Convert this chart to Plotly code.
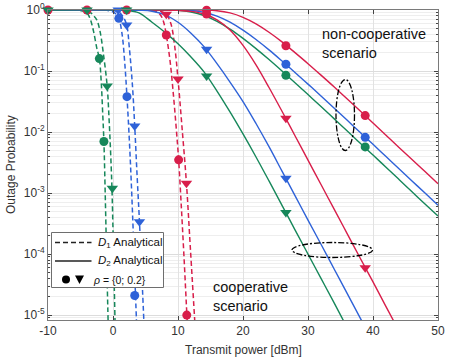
import plotly.graph_objects as go

# Outage probability vs transmit power

# D1 analytical, dashed (rho = 0 -> circle curve, rho = 0.2 -> triangle curve)
d1_red_c_x = [-10, 5, 6.5, 7.3, 7.8, 8.2, 8.8, 9.3, 9.7, 10.1, 10.5, 10.9, 11.3, 11.6]
d1_red_c_y = [1, 1, 0.955, 0.83, 0.63, 0.39, 0.14, 0.04, 0.0126, 0.0035, 6.3e-4, 1.0e-4, 1.4e-5, 3.2e-6]
d1_red_t_x = [-10, 6, 7.5, 8.2, 8.9, 9.5, 10.0, 10.6, 11.3, 11.9, 12.57, 12.8]
d1_red_t_y = [1, 0.99, 0.94, 0.85, 0.6, 0.25, 0.074, 0.0126, 1.45e-3, 1.26e-4, 8.3e-6, 3.2e-6]

d1_blue_c_x = [-10, -1, 0, 0.5, 0.9, 1.4, 1.8, 2.15, 2.5, 2.8, 3.1, 3.4, 3.65]
d1_blue_c_y = [1, 0.99, 0.93, 0.85, 0.73, 0.4, 0.14, 0.038, 7.9e-3, 1.6e-3, 2.5e-4, 3.2e-5, 6.3e-6]
d1_blue_t_x = [-10, 0, 1, 1.5, 2.1, 2.5, 3.0, 3.34, 3.7, 4.07, 4.4, 4.75]
d1_blue_t_y = [1, 0.98, 0.91, 0.79, 0.57, 0.25, 0.056, 0.0126, 2.0e-3, 3.4e-4, 5.6e-5, 8.0e-6]

d1_green_c_x = [-10, -5, -4, -3.5, -3.0, -2.5, -2.1, -1.8, -1.6, -1.4, -1.2, -1.0, -0.8, -0.6]
d1_green_c_y = [1, 0.98, 0.89, 0.71, 0.45, 0.24, 0.16, 0.063, 0.022, 0.007, 1.0e-3, 1.1e-4, 1.3e-5, 1.6e-6]
d1_green_t_x = [-10, -4.5, -3.5, -3.0, -2.5, -2.0, -1.5, -0.9, -0.6, -0.2, 0.0, 0.15, 0.35]
d1_green_t_y = [1, 0.98, 0.91, 0.81, 0.69, 0.45, 0.2, 0.057, 0.016, 1.6e-3, 2.5e-4, 5.0e-5, 5.0e-6]

# D2 analytical, solid: non-cooperative and cooperative scenario
pw = [-10, 5, 10, 12, 14, 16, 18, 20, 22, 24, 26, 28, 30, 32, 34, 36, 38, 40, 42, 44, 46, 48, 50]
red_nc = [1, 1, 1, 0.9999, 0.9965, 0.972, 0.895, 0.758, 0.592, 0.432, 0.30, 0.20, 0.132,
          0.0857, 0.0552, 0.0351, 0.0223, 0.0141, 8.9e-3, 5.6e-3, 3.56e-3, 2.25e-3, 1.42e-3]
blue_nc = [1, 1, 0.998, 0.981, 0.919, 0.795, 0.632, 0.467, 0.328, 0.222, 0.146, 0.0949, 0.061,
           0.0391, 0.0248, 0.0157, 9.9e-3, 6.3e-3, 3.97e-3, 2.5e-3, 1.58e-3, 1.0e-3, 6.3e-4]
green_nc = [1, 1, 0.985, 0.929, 0.812, 0.651, 0.486, 0.343, 0.233, 0.154, 0.100, 0.0643, 0.0411,
            0.0262, 0.0166, 0.0105, 6.6e-3, 4.2e-3, 2.65e-3, 1.67e-3, 1.05e-3, 6.6e-4, 4.2e-4]

pw_c = [-10, 2, 4, 6, 8, 10, 12, 14, 16, 18, 20, 22, 24, 26, 28, 30, 32, 34, 36, 38, 40, 42, 44, 46]
red_c = [1, 1, 1, 1, 0.999, 0.986, 0.95, 0.86, 0.69, 0.47, 0.263, 0.126, 0.0537, 0.0219,
         8.7e-3, 3.47e-3, 1.38e-3, 5.5e-4, 2.19e-4, 8.7e-5, 3.5e-5, 1.38e-5, 5.5e-6, 2.2e-6]
blue_c = [1, 1, 0.99, 0.955, 0.83, 0.63, 0.417, 0.251, 0.132, 0.066, 0.0316, 0.0138, 5.75e-3,
          2.29e-3, 9.1e-4, 3.6e-4, 1.45e-4, 5.75e-5, 2.29e-5, 9.1e-6, 3.6e-6, 1.4e-6, 6e-7, 2e-7]
green_c = [1, 0.99, 0.9, 0.63, 0.43, 0.28, 0.17, 0.097, 0.047, 0.0214, 9.3e-3, 3.9e-3, 1.58e-3,
           6.3e-4, 2.5e-4, 1.0e-4, 4.0e-5, 1.6e-5, 6.3e-6, 2.5e-6, 1e-6, 4e-7, 1.6e-7, 6e-8]

# simulation markers
top_x = [-10, -4, 2.1]
red_circ_x = [8.2, 10.1, 11.35, 14.4, 14.4, 26.6, 38.8]
red_circ_y = [0.39, 3.5e-3, 1.0e-5, 0.86, 0.99, 0.26, 0.0186]
red_tri_x = [8.2, 10.0, 11.3, 12.57, 26.6, 38.8]
red_tri_y = [0.85, 0.074, 1.45e-3, 8.3e-6, 0.0168, 6.0e-5]
blue_circ_x = [0.9, 2.15, 3.34, 26.6, 38.8]
blue_circ_y = [0.73, 0.038, 2.1e-5, 0.129, 0.0082]
blue_tri_x = [0.8, 2.1, 3.34, 4.07, 14.4, 26.6]
blue_tri_y = [1.0, 0.57, 0.0126, 3.4e-4, 0.227, 1.75e-3]
green_circ_x = [-2.1, -1.4, 26.6, 38.8]
green_circ_y = [0.16, 0.007, 0.085, 0.0057]
green_tri_x = [-0.9, -0.1, 14.4, 26.6]
green_tri_y = [0.057, 1.2e-3, 0.083, 4.8e-4]

x_ticks = [-10, 0, 10, 20, 30, 40, 50]
x_tick_txt = ['-10', '0', '10', '20', '30', '40', '50']

RED = '#D81E4A'
BLUE = '#2E62D8'
GREEN = '#16875A'
FONT = 'Liberation Sans, Arial, sans-serif'
DASH = '5px,3px'

fig = go.Figure()

# dashed D1 curves
for x, y, c in [(d1_red_c_x, d1_red_c_y, RED), (d1_red_t_x, d1_red_t_y, RED),
                (d1_blue_c_x, d1_blue_c_y, BLUE), (d1_blue_t_x, d1_blue_t_y, BLUE),
                (d1_green_c_x, d1_green_c_y, GREEN), (d1_green_t_x, d1_green_t_y, GREEN)]:
    fig.add_trace(go.Scatter(x=x, y=y, mode='lines', line=dict(color=c, width=1.5, dash=DASH),
                             line_shape='spline', showlegend=False, hoverinfo='skip'))

# solid D2 curves
for y, c in [(red_nc, RED), (blue_nc, BLUE), (green_nc, GREEN)]:
    fig.add_trace(go.Scatter(x=pw, y=y, mode='lines', line=dict(color=c, width=1.4),
                             line_shape='spline', showlegend=False, hoverinfo='skip'))
for y, c in [(red_c, RED), (blue_c, BLUE), (green_c, GREEN)]:
    fig.add_trace(go.Scatter(x=pw_c, y=y, mode='lines', line=dict(color=c, width=1.4),
                             line_shape='spline', showlegend=False, hoverinfo='skip'))

# markers
def marks(x, y, c, sym, size):
    fig.add_trace(go.Scatter(x=x, y=y, mode='markers', cliponaxis=False,
                             marker=dict(color=c, symbol=sym, size=size, line=dict(width=0)),
                             showlegend=False, hoverinfo='skip'))

marks(top_x, [1] * len(top_x), RED, 'circle', 9)
marks(red_circ_x, red_circ_y, RED, 'circle', 9)
marks(red_tri_x, red_tri_y, RED, 'triangle-down', 10)
marks(blue_circ_x, blue_circ_y, BLUE, 'circle', 9)
marks(blue_tri_x, blue_tri_y, BLUE, 'triangle-down', 10)
marks(green_circ_x, green_circ_y, GREEN, 'circle', 9)
marks(green_tri_x, green_tri_y, GREEN, 'triangle-down', 10)
marks(top_x, [1] * len(top_x), GREEN, 'triangle-down', 10)

# plot area in pixels: x 48..438, y 10..320
L, R, T, B = 48, 11, 10, 39
W, H = 449, 359
pw_px, ph_px = W - L - R, H - T - B

def px(xp):
    return (xp - L) / pw_px

def py(yp):
    return (H - B - yp) / ph_px

shapes = []
# ellipses
shapes.append(dict(type='circle', xref='paper', yref='paper', x0=px(336), x1=px(354.5),
                   y0=py(150.5), y1=py(79.5), line=dict(color='black', width=1.3, dash='6px,2px,2px,2px')))
shapes.append(dict(type='circle', xref='paper', yref='paper', x0=px(292), x1=px(372.5),
                   y0=py(257.5), y1=py(242.5), line=dict(color='black', width=1.3, dash='6px,2px,2px,2px')))

# legend box
shapes.append(dict(type='rect', xref='paper', yref='paper', x0=px(51.5), x1=px(163.5),
                   y0=py(287.5), y1=py(232.5), fillcolor='white', line=dict(color='#6e6e6e', width=1)))
shapes.append(dict(type='line', xref='paper', yref='paper', x0=px(55), x1=px(91.5),
                   y0=py(242.5), y1=py(242.5), line=dict(color='#222', width=1.3, dash=DASH)))
shapes.append(dict(type='line', xref='paper', yref='paper', x0=px(55), x1=px(91.5),
                   y0=py(261), y1=py(261), line=dict(color='#222', width=1.3)))
shapes.append(dict(type='circle', xref='paper', yref='paper', x0=px(62), x1=px(70),
                   y0=py(283.5), y1=py(275.5), fillcolor='black', line=dict(width=0)))
shapes.append(dict(type='path', xref='paper', yref='paper',
                   path='M %f,%f L %f,%f L %f,%f Z' % (px(75), py(275.5), px(84), py(275.5), px(79.5), py(284)),
                   fillcolor='black', line=dict(width=0)))

annotations = [
    dict(xref='paper', yref='paper', x=px(96), y=py(242.5), xanchor='left', yanchor='middle',
         text='<i>D</i><sub>1</sub> Analytical', showarrow=False, font=dict(size=11.5, color='#111', family=FONT)),
    dict(xref='paper', yref='paper', x=px(96), y=py(261), xanchor='left', yanchor='middle',
         text='<i>D</i><sub>2</sub> Analytical', showarrow=False, font=dict(size=11.5, color='#111', family=FONT)),
    dict(xref='paper', yref='paper', x=px(91), y=py(279.5), xanchor='left', yanchor='middle',
         text='<i>\u03c1</i> = {0; 0.2}', showarrow=False, font=dict(size=10.5, color='#111', family=FONT)),
    dict(xref='paper', yref='paper', x=px(320), y=py(43), xanchor='left', yanchor='middle', align='left',
         text='non-cooperative<br>scenario', showarrow=False, font=dict(size=14.5, color='#111', family=FONT)),
    dict(xref='paper', yref='paper', x=px(211), y=py(296), xanchor='left', yanchor='middle', align='left',
         text='cooperative<br>scenario', showarrow=False, font=dict(size=14.5, color='#111', family=FONT)),
    dict(xref='paper', yref='paper', x=px(11), y=0.5, xanchor='center', yanchor='middle', textangle=-90,
         text='Outage Probability', showarrow=False, font=dict(size=12, color='#333', family=FONT)),
    dict(xref='paper', yref='paper', x=0.5, y=py(350), xanchor='center', yanchor='middle',
         text='Transmit power [dBm]', showarrow=False, font=dict(size=12, color='#333', family=FONT)),
]

major_y = [1, 1e-1, 1e-2, 1e-3, 1e-4, 1e-5]
major_txt = ['10<sup>0</sup>', '10<sup>-1</sup>', '10<sup>-2</sup>', '10<sup>-3</sup>',
             '10<sup>-4</sup>', '10<sup>-5</sup>']
minor_y = [k * 10.0 ** e for e in range(-6, 0) for k in range(2, 10)]

fig.update_layout(
    width=W, height=H,
    margin=dict(l=L, r=R, t=T, b=B, autoexpand=False),
    plot_bgcolor='white', paper_bgcolor='white',
    font=dict(family=FONT, size=12, color='#333'),
    shapes=shapes, annotations=annotations,
    showlegend=False,
)
fig.update_xaxes(range=[-10, 50], tickmode='array', tickvals=x_ticks, ticktext=x_tick_txt,
                 ticks='inside', ticklen=4, automargin=False,
                 showline=True, linecolor='#7a7a7a', linewidth=1, mirror='allticks',
                 showgrid=True, gridcolor='#e2e2e2', gridwidth=1, zeroline=False,
                 tickfont=dict(size=12, color='#333'))
fig.update_yaxes(type='log', range=[-5.08, 0], tickmode='array', tickvals=major_y, ticktext=major_txt,
                 ticks='inside', ticklen=4, automargin=False, showline=True, linecolor='#7a7a7a', linewidth=1,
                 mirror='allticks', showgrid=True, gridcolor='#dcdcdc', gridwidth=1,
                 minor=dict(tickmode='array', tickvals=minor_y, ticks='inside', ticklen=2,
                            showgrid=True, gridcolor='#eeeeee', gridwidth=1),
                 tickfont=dict(size=12, color='#333'))

# page body has a default margin; remove it so the figure sits at the top-left corner
fig.write_html("out.html", config={'displayModeBar': False},
               post_script="document.body.style.margin='0';")
